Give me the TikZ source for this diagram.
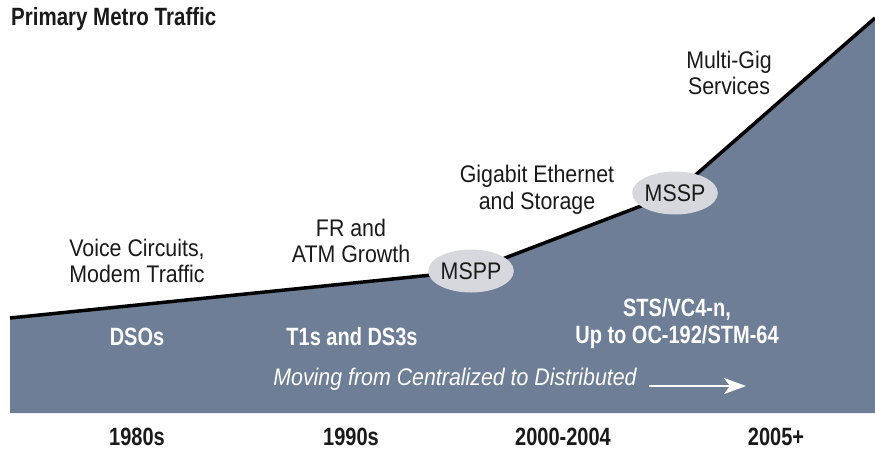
\documentclass[tikz,border=0pt]{standalone}
\usepackage{fontspec}
\setmainfont{Liberation Sans}[FakeStretch=0.89]
\newfontfamily\condfont{Liberation Sans}[FakeStretch=0.8]
\newfontfamily\headfont{Liberation Sans}[FakeStretch=0.82]
\usetikzlibrary{arrows.meta, positioning, shapes.geometric}
\definecolor{slate}{HTML}{6E7E96}
\definecolor{bubble}{HTML}{D7D8DD}
\definecolor{ink}{HTML}{1A1A1A}

\begin{document}
\begin{tikzpicture}[x=1pt, y=-1pt,
  note/.style={font=\fontsize{24}{26.5}\selectfont, text=ink, align=center, inner sep=0pt},
  band/.style={font=\condfont\bfseries\fontsize{25}{27}\selectfont, text=white, align=center, inner sep=0pt},
  era/.style={font=\condfont\bfseries\fontsize{25}{27}\selectfont, text=ink, inner sep=0pt},
  hub/.style={ellipse, fill=bubble, minimum width=80pt, minimum height=43pt, inner sep=0pt,
    font=\fontsize{24}{26}\selectfont, text=ink}]
\useasboundingbox (0,0) rectangle (875,452);

% Traffic curve
\coordinate (start) at (10,318);
\coordinate (p1) at (471,271);
\coordinate (p2) at (675,193);
\coordinate (peak) at (875,18);
\coordinate (br) at (875,413);
\coordinate (bl) at (10,413);
\fill[slate] (start) -- (p1) -- (p2) -- (peak) -- (br) -- (bl) -- cycle;
\draw[line width=3.5pt, line join=round] (start) -- (p1) -- (p2) -- (peak);

% Platforms
\node[hub] (mspp) at (p1) {MSPP};
\node[hub] (mssp) at (p2) {MSSP};

% Title
\node[era, font=\headfont\bfseries\fontsize{25}{27}\selectfont, anchor=west] (title) at (11,19) {Primary Metro Traffic};

% Services above the curve
\node[note] (voice) at (137,261) {Voice Circuits,\\Modem Traffic};
\node[note] (fr) at (351,241) {FR and\\ATM Growth};
\node[note] (gige) at (537,190) {Gigabit Ethernet\\and Storage};
\node[note] (multi) at (729,73) {Multi-Gig\\Services};

% Transport inside the band
\node[band] (ds0) at (137,337) {DSOs};
\node[band] (t1) at (352,337) {T1s and DS3s};
\node[band] (sts) at (677,324) {STS/VC4-n,\\Up to OC-192/STM-64};

% Trend
\node[note, text=white, font=\itshape\fontsize{24}{26}\selectfont] (trend) at (455,379) {Moving from Centralized to Distributed};
\coordinate[right=12pt of trend.east] (go);
\coordinate (goend) at (746,386);
\draw[white, line width=2.6pt, -{Stealth[length=22pt, width=16pt, inset=6pt]}] (go |- goend) -- (goend);

% Decades
\node[era] (d80) at (137,437) {1980s};
\node[era] (d90) at (351,437) {1990s};
\node[era] (d00) at (563,437) {2000-2004};
\node[era] (d05) at (776,437) {2005+};
\end{tikzpicture}
\end{document}
